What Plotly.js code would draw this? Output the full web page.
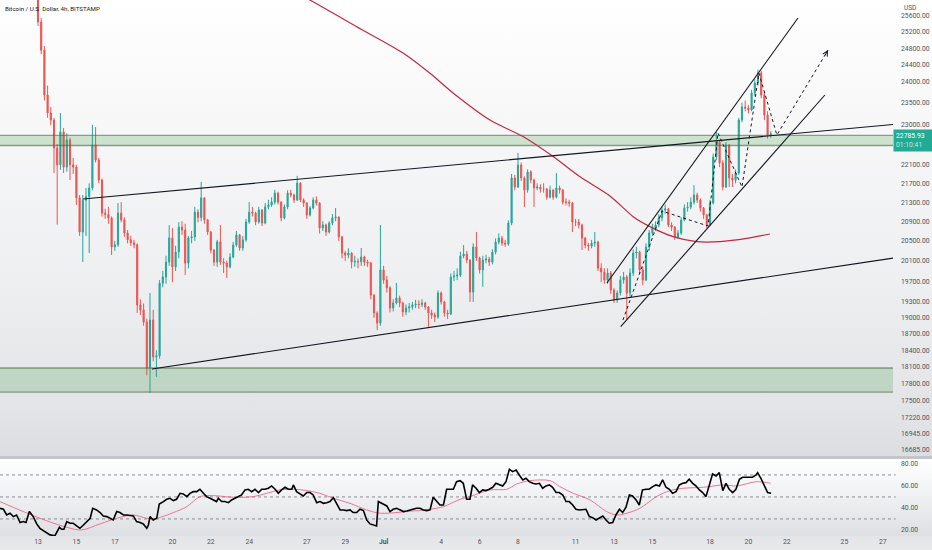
<!DOCTYPE html>
<html><head><meta charset="utf-8">
<script src="https://cdn.plot.ly/plotly-3.0.1.min.js"></script>
<style>
html,body{margin:0;padding:0;background:#fff;}
#chart{width:932px;height:550px;
background:linear-gradient(to bottom,#ffffff 0px,#f8f8f9 110px,#eeeff1 280px,#e2e3e6 420px,#dcdde1 456px,#c4c5ca 456px,#c4c5ca 459px,#ffffff 459px,#eeeff1 500px,#dedfe3 536px,#e4e5e8 536px,#e8e9eb 550px);}
</style></head><body><div id="chart"></div>
<script>
// 4h bars, index 0 = 13 Jun 00:00
const firstBar = -4;
const firstOpen = 27800;
const closes = [
27500,27300,26900,26600,25450,24750,23680,23260,23100,22470,
22100,22830,22050,22650,22100,22050,21390,20680,21340,21420,
21600,22540,22205,21770,21070,21040,20970,20375,20420,21070,
20930,20660,20520,20460,20420,19240,19150,18920,18080,18960,
18280,18300,19660,19780,20075,20560,19980,20275,20780,20720,
20055,20560,20580,21090,20980,21390,20930,20680,20315,20075,
20480,20075,20055,19980,20175,20415,20620,20355,20520,20885,
21090,21070,20885,21135,20865,21200,21240,21300,21490,21300,
20970,21200,21490,21450,21345,21705,21345,21280,21030,21175,
21345,21280,20760,20825,20680,20865,20970,20990,20580,20255,
20215,20255,20075,20090,20080,20175,20075,20055,19430,19090,
18900,19920,19720,19570,19185,19280,19375,19280,19110,19185,
19205,19240,19260,19250,19280,19205,19090,19050,19015,19470,
19300,19090,19070,19780,19800,19820,20195,20235,20115,19490,
20375,20155,19920,20115,20135,20075,20275,20475,20555,20455,
20435,20865,21815,21620,22095,21815,21555,21945,21770,21600,
21620,21575,21575,21405,21555,21405,21600,21555,21300,21300,
21280,20885,20885,20825,20555,20415,20395,20455,20475,19955,
19880,19720,19860,19530,19335,19470,19720,19780,19470,19860,
20255,20275,19920,19720,20375,20660,20760,20825,20970,21135,
21155,20825,20780,20580,20660,20925,21175,21195,21300,21450,
21345,21175,21030,20825,21280,22270,22605,22140,21620,22535,
21815,21770,21920,23100,23400,23375,23330,23725,23960,24200,
23680,23215,22760,22785.93];
const highs = [
27950,27650,27400,27050,26700,25550,24850,23900,23400,23150,
22560,23260,22920,22800,22700,22250,22100,21450,21450,21600,
21700,22990,22940,22250,21800,21160,21200,21000,20500,21280,
21300,20980,20720,20600,20520,20450,19350,19270,18980,19470,
19150,18400,19720,19900,20200,20820,20760,20400,20885,20900,
20850,20600,20700,21200,21150,21730,21400,20950,20700,20330,
20520,20825,20150,20100,20250,20480,20700,20640,20600,20950,
21300,21200,21100,21200,21150,21280,21350,21400,21560,21520,
21320,21250,21550,21560,21480,21860,21720,21380,21300,21220,
21400,21420,21300,20900,20850,20900,21050,21175,21000,20600,
20300,20350,20270,20200,20150,20355,20200,20120,20080,19450,
19120,20825,20000,19800,19600,19350,19665,19420,19300,19250,
19280,19300,19340,19330,19350,19300,19220,19150,19100,19520,
19500,19320,19150,19850,19900,19950,20280,20415,20300,20130,
20450,20680,20180,20200,20220,20180,20330,20550,20650,20600,
20520,20920,21900,21880,22360,22150,21850,22000,21980,21800,
21700,21680,21700,21600,21650,21580,21920,21650,21580,21380,
21350,21300,20950,20950,20850,20580,20460,20520,20680,20500,
20050,19950,19950,19900,19560,19520,19800,19880,19820,19950,
20330,20380,20300,19980,20450,20720,20850,20900,21050,21200,
21250,21180,20880,20800,20720,20980,21250,21300,21400,21660,
21500,21380,21200,21050,21350,22350,22830,22650,22200,22600,
22560,21900,22000,23150,23500,23550,23450,23800,24050,24280,
24250,23750,23300,22850];
const lows = [
27350,27150,26800,26450,25350,24650,23550,23150,22980,21920,
20830,21990,21920,21950,21770,21900,21240,20600,20075,20600,
20255,21550,22150,21700,21000,20950,20850,20215,20300,20380,
20880,20580,20450,20400,20350,19090,19050,18850,17950,17640,
18200,17920,18250,19580,19650,20000,19680,19900,20150,20620,
19820,19950,20450,20500,20880,20900,20850,20620,20250,20000,
19980,20020,19860,19760,19950,20150,20380,20300,20300,20480,
20850,21000,20820,20850,20800,20840,21150,21200,21250,21250,
20900,20940,21150,21400,21280,21320,21300,21200,20950,21000,
21150,21230,20650,20700,20600,20650,20820,20900,20500,20150,
20100,20150,19950,19980,19950,20000,20000,19980,19350,19000,
18770,18850,19650,19480,19100,19120,19250,19200,19020,19050,
19100,19150,19180,19170,19200,19150,18830,18980,18920,18980,
19250,19020,18980,19050,19700,19720,19780,20150,20050,19300,
19300,20100,19850,19590,20050,20000,20030,20230,20430,20400,
20380,20400,20820,21550,21600,21750,21200,21500,21700,21200,
21550,21500,21500,21350,21380,21350,21380,21480,21250,21230,
21200,20680,20800,20750,20315,20350,20300,20350,20380,19900,
19680,19650,19650,19450,19280,19280,19420,19650,18960,19400,
19800,20150,19850,19620,19700,20300,20600,20700,20780,20900,
21050,20780,20700,20520,20540,20620,20900,21100,21150,21250,
21280,21100,20950,20760,20800,21250,22200,22050,21550,21600,
21620,21620,21700,21880,23050,23300,23250,23300,23650,23900,
23600,23100,22680,22700];

// 200 MA (price pane)
const maBar = [78.75,85,99.6,114.2,122.5,129.8,141.25,151.7,161,169.4,178.75,186,191.25,198.5,205.8,213.1,221.5,228.75];
const maVal = [26290,26008,25330,24675,24190,23720,23100,22720,22280,21840,21430,20995,20790,20585,20485,20485,20550,20640];

// drawings
const wedgeTopBar = [14.06,267.19], wedgeTopVal = [21365,22998];
const wedgeBotBar = [35.6,267.19],  wedgeBotVal = [18062,20154];
const chanTopBar = [177.8,237.5],   chanTopVal = [19664,25550];
const chanBotBar = [182.1,245.9],   chanBotVal = [18833,23678];
const pathBar = [182.8,195,209.4,212.5,220,225.3,230.9,246.9];
const pathVal = [18958,21113,20803,22805,21620,24198,22760,24754];
const zoneHigh = [22525,22750];
const zoneLow = [17655,18080];
const lastPrice = 22785.93;
const countdown = '01:10:41';

// RSI
const rsiBar = [-11.9,-10.8,-9.8,-8.75,-7.7,-6.7,-5.6,-4.6,-3.75,-2.7,-1.5,-0.4,0.6,2.2,3.75,5.3,6.7,7.4,8.1,9,10,11,12.1,13.1,14.2,15.2,16.3,17.1,18.3,19.4,20.4,21.5,22.5,23.5,24.6,25.6,26.7,27.7,29.8,30.8,31.9,32.9,34,34.5,35,36,37.1,37.9,39.2,40.2,41.25,42.3,43.3,44.4,45.4,46.5,47.5,48.5,49.6,50.6,51.7,52.7,53.75,54.8,55.8,56.35,57.4,58.4,59.5,60.5,61.6,62.6,63.6,64.7,65.7,66.8,67.8,68.9,69.9,70.9,72,73,74.1,75.1,76.1,77.2,78.2,79.3,79.8,80.8,81.9,82.9,84,85,86,87.1,88.1,89.2,90.2,91.25,92.3,93.3,94.4,95.4,96.5,97.5,98.5,99.6,100.6,101.7,102.7,103.75,104.8,105.8,106.35,107.4,109,110,111,112.1,113.1,114.2,115.2,116.25,117.3,118.3,119.4,120.4,121.5,122.5,123.5,124.6,125.6,126.7,127.7,128.75,129.8,130.8,131.9,132.9,133.95,135,135.8,136.9,137.9,139,140,141,142.1,143.1,144.2,145.2,146.25,147.3,148.3,149.4,150.4,151.5,152.5,153.5,154.6,155.6,156.7,157.7,158.75,159.8,160.8,161.9,162.9,164,165,166,167.1,168.1,169.2,170.2,171.25,172.3,173.3,174.4,175.4,176.5,177.5,178.5,179.6,180.6,181.7,182.7,183.75,184.8,185.8,186.9,187.9,188.9,190,191,192.1,193.1,194.2,195.2,196.25,197.3,198.3,199.4,200.4,201.5,202.5,203.5,204.6,205.6,206.7,207.7,208.75,209.8,210.8,211.9,212.9,214,215,216,217.1,218.1,219.2,220.2,221.25,222.3,223.3,224.4,224.9,225.9,227,228,229.1];
const rsiVal = [39.7,38.8,33.6,35.2,32.1,33.6,26.7,27.6,26.7,36.7,32.1,25.5,21.5,18.5,15.5,14.8,22.4,20.6,20.6,27.6,26.1,26.1,23.6,21.5,24.5,27.6,30.6,39.7,38.2,35.8,32.7,32.1,30.6,29.1,36.7,35.8,33.6,33.6,32.7,27.6,26.7,25.5,21.5,24.5,32.1,29.1,30.6,43.6,45.7,47.9,48.8,46.7,47.9,53.3,52.7,50.3,53.3,54.8,54.8,57,53.3,50.3,48.8,47.3,45.8,48.8,45.8,45.8,44.8,47.3,48.8,50.3,51.8,56.4,57,54.8,57,53.9,57,57,57.9,60,57,53.3,56.4,58.8,57,57,60.9,54.8,52.7,50.9,54,54,51.8,44.8,45.8,44.2,44.8,45.8,49.4,44.2,38.2,38.2,37.6,38.2,35.8,35.8,38.8,37.6,29.1,25.5,24.5,23.6,45.8,44.2,41.8,36.7,38.8,39.7,38.2,36.7,37.3,38.2,38.8,39.7,39.7,38.2,37.6,38.2,49.7,45.8,42.7,42.7,57,57,57,63.9,64.8,62.4,47.9,47.9,60.9,57.9,54,56.4,55.8,57,58.8,62.4,60.9,60,63.9,75.2,73,74.5,70,65.5,67,63.9,62.4,61.8,62.4,57.9,60,60.9,58.8,54,54,51.8,45.8,45.8,42.7,38.8,38.2,38.2,38.8,32.1,31.2,29.1,30.6,32.7,29.1,26.1,26.7,33.6,38.8,35.8,40.6,51.8,50.9,47.3,42.7,56.4,57,57,59.4,60.9,60,65.5,58.8,57,53.3,54.8,60.9,62.4,63,66.1,62.4,60,56.4,54,50.3,60.9,70.9,69.1,72.1,55.8,62.4,57,54,57,66.1,67.9,67.9,67.9,67.9,70,72.1,67,60,54,53.3];
const rsiMaBar = [-11.9,0.6,9,13.6,19.4,24.6,29.8,34,37.1,42.3,46.5,50.6,54.8,61,67.3,71.5,75.6,79.8,84,88.1,92.3,97.5,102.7,106.9,113.1,118.3,122.5,126.7,131.9,135,141.25,146.5,149.6,153.75,160,163.1,167.3,172.5,177.7,180.8,184,188.1,193.3,197.5,201.7,207.9,214.2,218.3,224.6,229];
const rsiMaVal = [45.8,30.6,22.4,20,25.5,30.6,33.6,30.6,30.6,35.8,41.2,50.3,51.2,49.7,50.3,53.3,56.4,57,55.8,53.3,48.8,44.2,38.2,35.2,36.1,37.6,38.8,41.2,47.9,50.3,56.4,57,61.8,64.8,64.8,59.4,53.3,47.3,36.7,33.6,35.2,39.7,50.3,55.8,57.9,58.8,60.9,60,63.9,62.4];

// axes labels
const xTickBars = [0,12,24,42,54,66,84,96,108,126,138,150,168,180,192,210,222,234,252,264];
const xTickText = ['13','15','17','20','22','24','27','29','<b>Jul</b>','4','6','8','11','13','15','18','20','22','25','27'];
const yTickVals = [25600,25200,24800,24400,24000,23500,23000,22500,22100,21700,21300,20900,20500,20100,19700,19300,19000,18700,18400,18100,17800,17500,17220,16945,16685];
const yTickText = yTickVals.map(v => v.toFixed(2));
const rsiTicks = [80,60,40,20];

const FONT = 'Roboto, "Liberation Sans", Arial, sans-serif';
const X_MIN = -11.875, X_MAX = 267.19;
const xs = closes.map((_, i) => firstBar + i);
const opens = [firstOpen].concat(closes.slice(0, -1));
const L = Math.log10;

function zoneTrace(z) {
  return {type:'scatter', mode:'lines', xaxis:'x', yaxis:'y', hoverinfo:'skip',
    x:[X_MIN-1, X_MAX+1, X_MAX+1, X_MIN-1, X_MIN-1], y:[z[0], z[0], z[1], z[1], z[0]],
    fill:'toself', fillcolor:'rgba(76,160,80,0.24)', line:{color:'rgba(70,105,70,0.6)', width:1.3}};
}

const traces = [
  zoneTrace(zoneHigh), zoneTrace(zoneLow),
  {type:'candlestick', x:xs, open:opens, high:highs, low:lows, close:closes,
   xaxis:'x', yaxis:'y', whiskerwidth:0, hoverinfo:'skip',
   increasing:{line:{color:'#26a69a', width:1}, fillcolor:'#26a69a'},
   decreasing:{line:{color:'#ef5350', width:1}, fillcolor:'#ef5350'}},
  {type:'scatter', mode:'lines', x:maBar, y:maVal, xaxis:'x', yaxis:'y',
   line:{color:'#c2283f', width:1.2, shape:'spline', smoothing:0.8}, hoverinfo:'skip'},
  {type:'scatter', mode:'lines', x:wedgeTopBar, y:wedgeTopVal, xaxis:'x', yaxis:'y', line:{color:'#131722', width:1.1}, hoverinfo:'skip'},
  {type:'scatter', mode:'lines', x:wedgeBotBar, y:wedgeBotVal, xaxis:'x', yaxis:'y', line:{color:'#131722', width:1.1}, hoverinfo:'skip'},
  {type:'scatter', mode:'lines', x:chanTopBar, y:chanTopVal, xaxis:'x', yaxis:'y', line:{color:'#131722', width:1.1}, hoverinfo:'skip'},
  {type:'scatter', mode:'lines', x:chanBotBar, y:chanBotVal, xaxis:'x', yaxis:'y', line:{color:'#131722', width:1.1}, hoverinfo:'skip'},
  {type:'scatter', mode:'lines', x:pathBar, y:pathVal, xaxis:'x', yaxis:'y', line:{color:'#131722', width:1, dash:'dot'}, hoverinfo:'skip'},
  {type:'scatter', mode:'lines', x:rsiMaBar, y:rsiMaVal, xaxis:'x', yaxis:'y2',
   line:{color:'rgba(233,98,130,0.85)', width:1, shape:'spline', smoothing:0.9}, hoverinfo:'skip'},
  {type:'scatter', mode:'lines', x:rsiBar, y:rsiVal, xaxis:'x', yaxis:'y2',
   line:{color:'#000000', width:1.6}, hoverinfo:'skip'}
];

const tickFont = {family:FONT, size:6.8, color:'#50535e'};
const shapes = [70,50,30].map(v => ({type:'line', xref:'paper', yref:'y2', x0:0, x1:1.003, y0:v, y1:v,
  line:{color:'#8a8d96', width:1, dash:'dot'}, layer:'below'}));

const annotations = [
  {xref:'paper', yref:'paper', x:0, y:1, xanchor:'left', yanchor:'top', xshift:3, yshift:-3, showarrow:false,
   text:'Bitcoin / U.S. Dollar, 4h, BITSTAMP', font:{family:FONT, size:6.2, color:'#131722'}},
  {xref:'paper', yref:'paper', x:1, y:1, xanchor:'left', yanchor:'top', xshift:9, yshift:-2, showarrow:false,
   text:'USD', font:{family:FONT, size:6.5, color:'#50535e'}},
  {xref:'paper', yref:'y', x:1, y:L(lastPrice), xanchor:'left', yanchor:'top', xshift:0, yshift:5, showarrow:false,
   text:lastPrice.toFixed(2)+'<br><span style="color:rgba(255,255,255,0.72)">'+countdown+'</span>',
   align:'left', width:35, borderpad:2, bgcolor:'#22ab94', font:{family:FONT, size:6.8, color:'#ffffff'}},
  {xref:'x', yref:'y', x:pathBar[pathBar.length-1], y:L(pathVal[pathVal.length-1]), ax:-4, ay:7,
   showarrow:true, arrowhead:5, arrowsize:1, arrowwidth:1, arrowcolor:'#131722', text:'', standoff:0}
];

const layout = {
  width:932, height:550,
  margin:{l:0, r:39, t:0, b:14, pad:0},
  paper_bgcolor:'rgba(0,0,0,0)', plot_bgcolor:'rgba(0,0,0,0)',
  showlegend:false, boxgap:0.5,
  xaxis:{range:[X_MIN, X_MAX], anchor:'y2', showgrid:false, zeroline:false, showline:false,
    ticks:'', tickmode:'array', tickvals:xTickBars, ticktext:xTickText, tickfont:tickFont,
    rangeslider:{visible:false}, fixedrange:true},
  yaxis:{domain:[0.1474,1], type:'log', range:[L(16558), L(26008)], side:'right', showgrid:false, zeroline:false,
    showline:false, ticks:'', tickmode:'array', tickvals:yTickVals, ticktext:yTickText, tickfont:tickFont,
    ticklabelstandoff:7, fixedrange:true},
  yaxis2:{domain:[0,0.14366], range:[14.5,84.5], side:'right', showgrid:false, zeroline:false, showline:false,
    ticks:'', tickmode:'array', tickvals:rsiTicks, ticktext:rsiTicks.map(v=>v.toFixed(2)), tickfont:tickFont,
    ticklabelstandoff:7, fixedrange:true},
  shapes:shapes, annotations:annotations
};

Plotly.newPlot('chart', traces, layout, {staticPlot:true, displayModeBar:false});
</script></body></html>
